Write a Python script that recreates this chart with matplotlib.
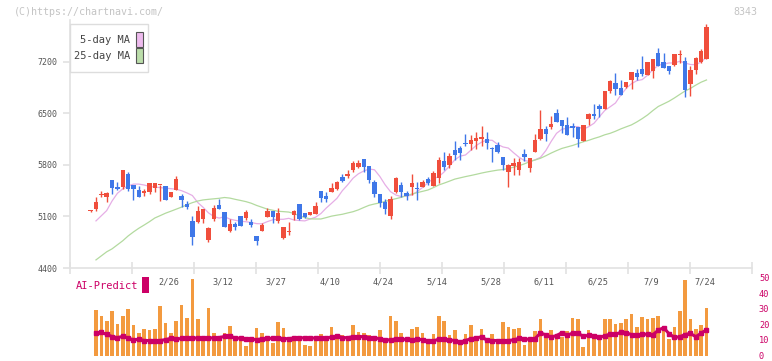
import numpy as np
import matplotlib
matplotlib.use("Agg")
import matplotlib.pyplot as plt
from matplotlib.patches import Rectangle
from matplotlib.transforms import blended_transform_factory

plt.rcParams['font.family'] = ['DejaVu Sans Mono']

# daily candles (open, high, low, close), oldest first
opens = [5170, 5202, 5389, 5369, 5596, 5497, 5497, 5677, 5528, 5460,
         5423, 5437, 5483, 5523, 5514, 5369, 5465, 5378, 5274, 5039,
         5030, 5070, 4781, 5066, 5256, 5165, 4907, 4998, 5107, 5084,
         5025, 4835, 4907, 5098, 5175, 5043, 4808, 4885, 5120, 5270,
         5148, 5125, 5130, 5442, 5383, 5438, 5474, 5637, 5650, 5732,
         5777, 5877, 5786, 5569, 5401, 5297, 5107, 5433, 5528, 5423,
         5505, 5487, 5501, 5605, 5514, 5619, 5854, 5800, 6004, 6035,
         6099, 6085, 6130, 6158, 6153, 6030, 6072, 5908, 5705, 5782,
         5732, 5950, 5764, 5977, 6153, 6290, 6321, 6511, 6412, 6344,
         6330, 6317, 6130, 6425, 6493, 6597, 6561, 6810, 6914, 6846,
         6856, 6960, 7050, 7105, 7023, 7082, 7322, 7200, 7141, 7164,
         7290, 7218, 6896, 7096, 7195, 7245]
highs = [5185, 5361, 5450, 5433, 5600, 5569, 5735, 5705, 5530, 5514,
         5478, 5560, 5555, 5530, 5514, 5433, 5650, 5406, 5306, 5107,
         5243, 5205, 4961, 5256, 5338, 5165, 5066, 5025, 5107, 5188,
         5062, 4835, 5016, 5215, 5175, 5211, 4961, 5025, 5188, 5275,
         5148, 5165, 5297, 5450, 5433, 5560, 5587, 5680, 5732, 5855,
         5868, 5877, 5786, 5596, 5401, 5338, 5378, 5630, 5569, 5446,
         5677, 5569, 5596, 5633, 5718, 5913, 5977, 5958, 6122, 6062,
         6221, 6208, 6253, 6330, 6248, 6044, 6112, 5908, 5813, 5891,
         5900, 6017, 5900, 6221, 6547, 6330, 6466, 6561, 6412, 6452,
         6367, 6317, 6344, 6511, 6629, 6624, 6810, 6960, 7050, 6951,
         6930, 7070, 7109, 7285, 7205, 7245, 7390, 7322, 7141, 7310,
         7363, 7268, 7146, 7268, 7380, 7720]
lows = [5160, 5179, 5361, 5297, 5402, 5456, 5474, 5450, 5325, 5361,
        5379, 5410, 5437, 5315, 5325, 5361, 5465, 5225, 5206, 4711,
        5007, 5016, 4757, 5039, 5200, 4960, 4893, 4916, 4970, 5052,
        4961, 4713, 4907, 5090, 5007, 5007, 4798, 4853, 5052, 5052,
        5075, 5115, 5130, 5300, 5300, 5438, 5460, 5565, 5619, 5709,
        5755, 5709, 5560, 5369, 5233, 5134, 5070, 5420, 5369, 5324,
        5388, 5324, 5497, 5528, 5514, 5555, 5732, 5755, 5868, 5868,
        6058, 6004, 6017, 6062, 6017, 5845, 5967, 5732, 5505, 5664,
        5664, 5858, 5709, 5977, 6140, 6126, 6285, 6390, 6240, 6212,
        6185, 6049, 6125, 6348, 6425, 6456, 6555, 6778, 6747, 6747,
        6850, 6837, 6960, 7005, 7020, 6983, 7141, 7118, 7042, 7141,
        7187, 6724, 6742, 7037, 7190, 7245]
closes = [5175, 5297, 5410, 5423, 5483, 5474, 5732, 5478, 5478, 5369,
          5442, 5555, 5551, 5530, 5328, 5433, 5610, 5328, 5233, 4826,
          5175, 5202, 4940, 5215, 5202, 4961, 4998, 4961, 4970, 5161,
          4984, 4767, 4984, 5175, 5098, 5152, 4961, 4894, 5175, 5070,
          5098, 5157, 5243, 5351, 5338, 5492, 5565, 5587, 5673, 5823,
          5832, 5777, 5596, 5401, 5290, 5195, 5338, 5623, 5437, 5378,
          5560, 5478, 5565, 5560, 5687, 5868, 5768, 5922, 5936, 5967,
          6090, 6140, 6163, 6180, 6103, 6022, 5981, 5800, 5800, 5832,
          5836, 5904, 5890, 6140, 6290, 6221, 6357, 6390, 6335, 6212,
          6307, 6153, 6344, 6493, 6470, 6566, 6806, 6945, 6837, 6756,
          6928, 7064, 6996, 7037, 7200, 7240, 7141, 7118, 7082, 7308,
          7295, 6824, 7091, 7254, 7353, 7675]

# moving averages, from the second candle on
ma5 = [5040, 5110, 5180, 5310, 5415, 5475, 5515, 5540, 5540, 5528,
       5508, 5500, 5492, 5485, 5478, 5470, 5450, 5420, 5385, 5290,
       5225, 5150, 5100, 5078, 5097, 5065, 5048, 5035, 5029, 5018,
       5003, 5000, 5030, 5055, 5062, 5062, 5075, 5052, 5045, 5040,
       5066, 5090, 5140, 5215, 5280, 5347, 5450, 5530, 5620, 5680,
       5718, 5745, 5735, 5645, 5530, 5437, 5392, 5370, 5375, 5392,
       5440, 5495, 5560, 5615, 5641, 5705, 5785, 5870, 5920, 5936,
       6000, 6065, 6110, 6138, 6135, 6080, 6045, 6030, 5965, 5905,
       5860, 5848, 5870, 5904, 5995, 6120, 6230, 6285, 6300, 6320,
       6322, 6285, 6320, 6367, 6455, 6540, 6590, 6642, 6750, 6840,
       6905, 6945, 6960, 7020, 7095, 7155, 7170, 7186, 7186, 7209,
       7186, 7165, 7163, 7200, 7263]
ma25 = [4510, 4565, 4620, 4660, 4715, 4770, 4835, 4890, 4940, 4984,
        5030, 5080, 5112, 5145, 5172, 5200, 5228, 5260, 5288, 5310,
        5325, 5333, 5340, 5347, 5358, 5350, 5333, 5318, 5302, 5280,
        5250, 5225, 5200, 5185, 5171, 5166, 5160, 5140, 5110, 5085,
        5068, 5066, 5066, 5085, 5105, 5118, 5130, 5148, 5165, 5190,
        5222, 5252, 5270, 5285, 5305, 5325, 5342, 5360, 5385, 5405,
        5425, 5442, 5460, 5492, 5528, 5553, 5580, 5608, 5625, 5642,
        5657, 5673, 5690, 5705, 5718, 5730, 5738, 5752, 5770, 5790,
        5815, 5845, 5868, 5891, 5925, 5962, 5995, 6025, 6045, 6065,
        6090, 6115, 6135, 6160, 6182, 6210, 6230, 6258, 6290, 6318,
        6345, 6385, 6430, 6480, 6540, 6595, 6630, 6666, 6710, 6758,
        6805, 6840, 6885, 6925, 6955]

# lower panel, from the second candle on
volume = [29.4, 25.2, 22.1, 28.8, 20.0, 25.6, 30.0, 19.4, 14.4, 16.9,
          16.5, 17.1, 31.9, 20.6, 14.4, 21.9, 32.5, 23.8, 48.8, 23.1,
          11.7, 30.6, 14.4, 11.0, 14.4, 18.8, 11.0, 10.6, 6.3, 11.3,
          17.5, 14.4, 11.0, 8.1, 21.3, 17.5, 11.3, 11.3, 10.6, 6.9,
          6.3, 9.4, 13.8, 11.0, 18.1, 13.8, 13.1, 12.5, 19.4, 15.0,
          14.4, 13.1, 11.3, 16.5, 8.5, 25.2, 21.9, 14.4, 10.6, 16.9,
          18.5, 14.4, 10.6, 13.8, 25.6, 22.1, 13.1, 16.3, 8.1, 13.8,
          19.4, 11.7, 17.3, 8.1, 13.8, 8.1, 21.5, 18.3, 17.3, 17.9,
          6.9, 9.0, 15.6, 23.1, 11.0, 16.5, 13.8, 11.7, 15.8, 24.0,
          23.1, 5.4, 16.3, 11.0, 10.6, 23.5, 23.5, 20.0, 20.6, 23.5,
          26.9, 18.1, 24.4, 23.1, 24.2, 25.6, 17.5, 10.6, 18.1, 28.3,
          48.1, 23.1, 17.3, 19.4, 30.4]
ai_predict = [14.6, 14.8, 13.5, 12.1, 11.4, 12.3, 11.2, 10.0, 10.4, 9.6,
              9.6, 9.6, 9.6, 10.2, 11.0, 10.4, 11.0, 11.0, 11.2, 11.2,
              11.2, 11.2, 11.3, 11.5, 12.2, 12.3, 11.3, 11.0, 10.8, 10.5,
              10.2, 10.6, 11.1, 10.9, 11.2, 10.8, 10.8, 11.2, 11.5, 11.2,
              11.2, 11.2, 11.5, 10.9, 12.0, 12.3, 11.5, 11.4, 12.1, 12.1,
              12.1, 11.4, 11.4, 10.7, 10.0, 10.0, 10.6, 10.4, 10.3, 10.0,
              10.4, 10.2, 9.2, 9.3, 10.5, 10.6, 10.0, 9.6, 8.5, 9.6,
              10.8, 11.2, 12.0, 9.8, 9.6, 9.6, 9.6, 9.6, 10.0, 11.0,
              10.5, 10.4, 10.8, 14.5, 13.2, 11.8, 12.8, 14.6, 12.9, 14.4,
              14.2, 12.3, 13.0, 12.7, 11.8, 12.5, 13.8, 13.5, 14.9, 14.6,
              13.4, 12.9, 13.5, 13.7, 13.3, 16.3, 17.8, 14.0, 11.6, 12.0,
              13.4, 14.2, 12.0, 14.3, 16.5]

date_labels = ['2/26', '3/12', '3/27', '4/10', '4/24', '5/14',
               '5/28', '6/11', '6/25', '7/9', '7/24']
date_pos = [15, 25, 35, 45, 55, 65, 75, 85, 95, 105, 115]
price_ticks = [4400, 5100, 5800, 6500, 7200]
vol_ticks = [0, 10, 20, 30, 40, 50]

UP = '#f04e3c'
DOWN = '#3f77e8'
GRID = '#e2e2e2'
MAGENTA = '#cc0066'

o = np.array(opens, float)
h = np.array(highs, float)
l = np.array(lows, float)
c = np.array(closes, float)
x = np.arange(len(c))
x_rest = x[1:]
colors = [UP if cc >= oo else DOWN for oo, cc in zip(o, c)]
xlim = (-3.85, 123.5)

fig = plt.figure(figsize=(7.72, 3.61), dpi=100)
W, H = 772, 361
ax = fig.add_axes([70 / W, 1 - 268 / H, 682 / W, 248 / H])

# candles
ax.vlines(x, l, h, colors=colors, lw=1.0, zorder=2)
body = np.maximum(np.abs(c - o), 14)
ax.bar(x, body, bottom=np.minimum(o, c), width=0.82, color=colors, zorder=3)
ax.plot(x_rest, ma5, color='#e6aee6', lw=0.9, zorder=1)
ax.plot(x_rest, ma25, color='#b3da9f', lw=0.9, zorder=1)

ax.set_xlim(*xlim)
ax.set_ylim(4400, 7770)
ax.set_yticks(price_ticks)
ax.set_xticks(np.linspace(xlim[0], xlim[1], 12))
ax.set_xticklabels([])
for s in ['top', 'right']:
    ax.spines[s].set_visible(False)
for s in ['left', 'bottom']:
    ax.spines[s].set_color(GRID)
    ax.spines[s].set_linewidth(1.2)
ax.tick_params(axis='y', direction='out', length=5, width=1.2, color=GRID,
               labelsize=6, labelcolor='#555555', pad=4)
ax.tick_params(axis='x', direction='inout', length=9, width=1.2, color=GRID)

trans = blended_transform_factory(ax.transData, ax.transAxes)
for p, lab in zip(date_pos, date_labels):
    ax.text(p - 0.3, -0.057, lab, transform=trans, ha='center', va='center',
            fontsize=6.2, color='#555555')

# lower panel
ax2 = fig.add_axes([70 / W, 1 - 355.5 / H, 682 / W, 78 / H])
ax2.bar(x_rest, volume, width=0.68, color='#f39a3f', zorder=1)
ax2.plot(x_rest, ai_predict, color=MAGENTA, lw=2.2, marker='s', ms=2.4, zorder=2)
ax2.set_xlim(*xlim)
ax2.set_ylim(0, 50)
for s in ax2.spines.values():
    s.set_visible(False)
ax2.set_xticks([])
ax2.yaxis.tick_right()
ax2.set_yticks(vol_ticks)
ax2.tick_params(axis='y', length=0, labelsize=6.2, labelcolor=MAGENTA, pad=5)
ax2.patch.set_alpha(0)

# header texts
fig.text(14 / W, 1 - 12 / H, '(C)https://chartnavi.com/', fontsize=7.2,
         color='#c4c4c4', ha='left', va='center')
fig.text(757 / W, 1 - 12 / H, '8343', fontsize=7.2, color='#c4c4c4',
         ha='right', va='center')

# legend box
fig.patches.append(Rectangle((70 / W, 1 - 72 / H), 78 / W, 48 / H,
                             transform=fig.transFigure, facecolor='white',
                             edgecolor='#dddddd', lw=1.0, zorder=5))
fig.patches.append(Rectangle((136 / W, 1 - 47 / H), 6.5 / W, 15 / H,
                             transform=fig.transFigure, facecolor='#eebbee',
                             edgecolor='#555555', lw=0.8, zorder=6))
fig.patches.append(Rectangle((136 / W, 1 - 63 / H), 6.5 / W, 15 / H,
                             transform=fig.transFigure, facecolor='#bbddaa',
                             edgecolor='#555555', lw=0.8, zorder=6))
fig.text(130 / W, 1 - 40 / H, '5-day MA', fontsize=7.5, color='#444444',
         ha='right', va='center', zorder=7)
fig.text(130 / W, 1 - 56 / H, '25-day MA', fontsize=7.5, color='#444444',
         ha='right', va='center', zorder=7)

# AI-Predict label
fig.text(76 / W, 1 - 286 / H, 'AI-Predict', fontsize=7.5, color=MAGENTA,
         ha='left', va='center')
fig.patches.append(Rectangle((142 / W, 1 - 293 / H), 7 / W, 16 / H,
                             transform=fig.transFigure, facecolor=MAGENTA,
                             edgecolor='none', zorder=5))

fig.savefig('out.png', dpi=100)
